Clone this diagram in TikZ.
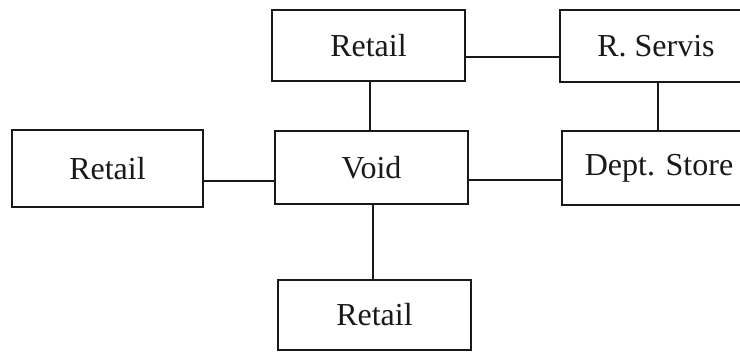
\documentclass[tikz,border=0pt]{standalone}
\usepackage{fontspec}
\setmainfont{Liberation Serif}
\begin{document}
\begin{tikzpicture}[x=1pt,y=-1pt,
  unit/.style={draw=black!90, line width=1.3pt, fill=white, inner sep=0pt,
    font=\fontsize{32}{36}\selectfont, text=black!90},
  link/.style={draw=black!90, line width=1.1pt}]
  \useasboundingbox (0,0) rectangle (740,352);
  \clip (0,0) rectangle (740,352);

  % rooms of the floor layout
  \node[unit, minimum width=193pt, minimum height=71pt] (rt) at (368.5,45.5) {Retail};
  \node[unit, minimum width=192pt, minimum height=72pt] (rs) at (656,46) {R. Servis};
  \node[unit, minimum width=193pt, minimum height=73pt] (vd) at (371.5,167.5) {Void};
  \node[unit, minimum width=194pt, minimum height=74pt] (ds) at (659,168) {Dept. Store};
  \node[unit, minimum width=191pt, minimum height=77pt] (lr) at (107.5,168.5) {Retail};
  \node[unit, minimum width=193pt, minimum height=70pt] (br) at (374.5,315) {Retail};

  % adjacency links, set a little below the box centres
  \coordinate (c1) at ([yshift=-11.5pt]rt.east);
  \draw[link] (c1) -- (c1 -| rs.west);
  \coordinate (c2) at ([yshift=-12.5pt]vd.east);
  \draw[link] (c2) -- (c2 -| ds.west);
  \coordinate (c3) at ([yshift=-12.5pt]lr.east);
  \draw[link] (c3) -- (c3 -| vd.west);
  \coordinate (c4) at ([xshift=1.5pt]rt.south);
  \draw[link] (c4) -- (c4 |- vd.north);
  \coordinate (c5) at ([xshift=2pt]rs.south);
  \draw[link] (c5) -- (c5 |- ds.north);
  \coordinate (c6) at ([xshift=1.5pt]vd.south);
  \draw[link] (c6) -- (c6 |- br.north);
\end{tikzpicture}
\end{document}
